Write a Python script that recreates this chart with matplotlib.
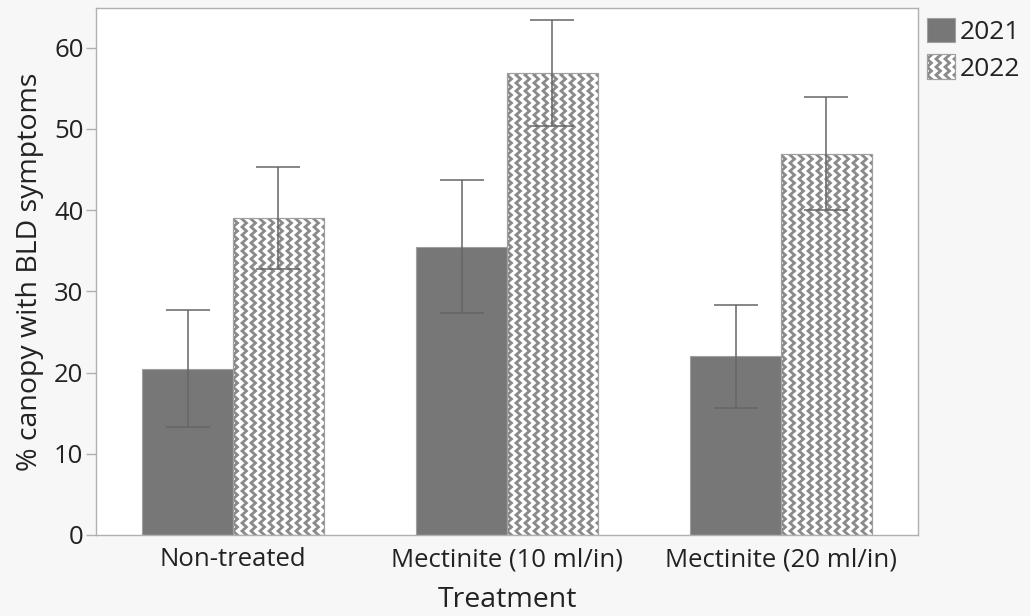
import numpy as np
import matplotlib
matplotlib.use('Agg')
import matplotlib.pyplot as plt
from matplotlib.patches import Rectangle
from matplotlib.lines import Line2D
from matplotlib.legend_handler import HandlerBase

plt.rcParams['font.family'] = ['Open Sans', 'DejaVu Sans']

# Data
treatments = ['Non-treated', 'Mectinite (10 ml/in)', 'Mectinite (20 ml/in)']
years = ['2021', '2022']
mean_2021 = [20.5, 35.5, 22.0]
err_2021 = [7.25, 8.2, 6.35]
mean_2022 = [39.05, 56.9, 46.95]
err_2022 = [6.25, 6.5, 6.95]

solid_color = '#777777'
zig_color = '#8a8a8a'
edge_color = '#a0a0a0'
err_color = '#666666'
text_color = '#222222'

W, H = 1030, 616
fig = plt.figure(figsize=(W / 100, H / 100), dpi=100, facecolor='#f7f7f7')
ax = fig.add_axes([96 / W, (H - 535) / H, (918 - 96) / W, (535 - 8) / H])
ax.set_facecolor('white')

xlim = (-0.5, 2.5)
ylim = (0, 64.9)
ax.set_xlim(*xlim)
ax.set_ylim(*ylim)

# data units per pixel, used to size the zigzag fill
px_x = (xlim[1] - xlim[0]) / (918 - 96)
px_y = (ylim[1] - ylim[0]) / (535 - 8)

x = np.arange(len(treatments))
width = 0.332

bars1 = ax.bar(x - width / 2, mean_2021, width, color=solid_color,
               edgecolor=edge_color, linewidth=0.8, zorder=2)
bars2 = ax.bar(x + width / 2, mean_2022, width, color='white',
               edgecolor=edge_color, linewidth=0.8, zorder=2)


def zigzag_lines(x0, x1, y0, y1, sx, sy, lw, transform):
    """Vertical zigzag lines covering a rectangle (clip afterwards)"""
    col = 9 * sx
    amp = 4.5 * sx
    half = 4 * sy
    ys = np.arange(y0 - half, y1 + 2 * half, half)
    xs_off = np.where(np.arange(len(ys)) % 2 == 0, 0.0, amp)
    lines = []
    xc = x0 - col
    while xc < x1 + col:
        lines.append(Line2D(xc + xs_off, ys, color=zig_color, lw=lw,
                            solid_joinstyle='miter', transform=transform, zorder=2.5))
        xc += col
    return lines


for b in bars2:
    for ln in zigzag_lines(b.get_x(), b.get_x() + b.get_width(), 0, b.get_height(),
                           px_x, px_y, 2.0, ax.transData):
        ax.add_line(ln)
        ln.set_clip_path(b)
    # redraw edge on top
    ax.add_patch(Rectangle((b.get_x(), 0), b.get_width(), b.get_height(),
                           fill=False, edgecolor=edge_color, lw=0.8, zorder=3))

ax.errorbar(x - width / 2, mean_2021, yerr=err_2021, fmt='none', ecolor=err_color,
            elinewidth=1.1, capsize=16, capthick=1.1, zorder=4)
ax.errorbar(x + width / 2, mean_2022, yerr=err_2022, fmt='none', ecolor=err_color,
            elinewidth=1.1, capsize=16, capthick=1.1, zorder=4)

for s in ax.spines.values():
    s.set_color('#b0b0b0')
    s.set_linewidth(1.0)

ax.set_yticks([0, 10, 20, 30, 40, 50, 60])
ax.set_xticks(x)
ax.set_xticklabels(treatments)
ax.tick_params(axis='y', length=7, width=1.0, color='#b0b0b0', labelsize=18.5,
               labelcolor=text_color, pad=2)
ax.tick_params(axis='x', length=0, labelsize=18.5, labelcolor=text_color, pad=9)

ax.set_xlabel('Treatment', fontsize=20.5, color=text_color, labelpad=10)
ax.set_ylabel('% canopy with BLD symptoms', fontsize=20.5, color=text_color, labelpad=7)


class ZigzagHandler(HandlerBase):
    def create_artists(self, legend, orig_handle, xdescent, ydescent, width, height,
                       fontsize, trans):
        rect = Rectangle((-xdescent, -ydescent), width, height, facecolor='white',
                         edgecolor=edge_color, lw=0.8, transform=trans)
        artists = [rect]
        for ln in zigzag_lines(-xdescent, -xdescent + width, -ydescent,
                               -ydescent + height, 0.72, 0.72, 2.0, trans):
            ln.set_clip_path(rect)
            artists.append(ln)
        edge = Rectangle((-xdescent, -ydescent), width, height, fill=False,
                         edgecolor=edge_color, lw=0.8, transform=trans)
        artists.append(edge)
        return artists


h1 = Rectangle((0, 0), 1, 1, facecolor=solid_color, edgecolor=edge_color, lw=0.8)
h2 = Rectangle((0, 0), 1, 1, facecolor='white', edgecolor=edge_color, lw=0.8)
leg = fig.legend([h1, h2], years, loc='upper left', bbox_to_anchor=(927 / W, 1 - 18 / H),
                 frameon=False, fontsize=19, handlelength=1.05, handleheight=1.05,
                 handletextpad=0.2, labelspacing=0.35, borderpad=0, borderaxespad=0,
                 handler_map={h2: ZigzagHandler()})
for t in leg.get_texts():
    t.set_color(text_color)

fig.savefig('out.png', dpi=100, facecolor=fig.get_facecolor())
